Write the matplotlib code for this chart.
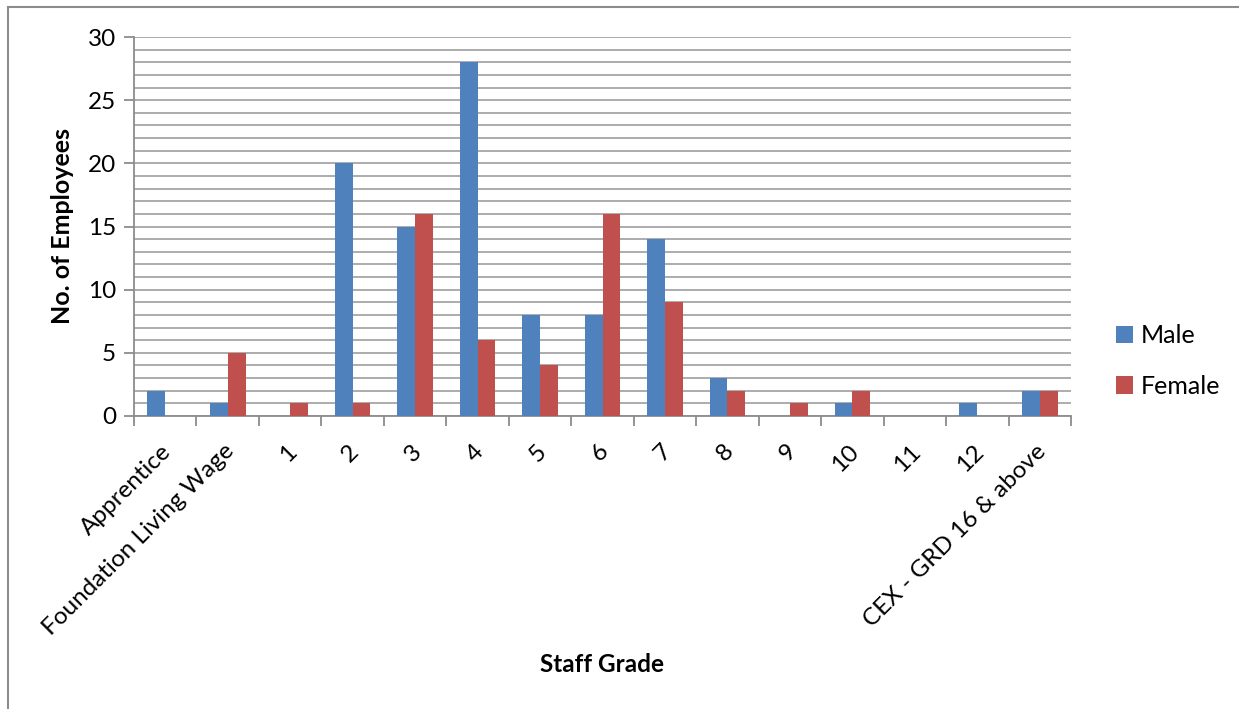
import matplotlib
matplotlib.use('Agg')
import matplotlib.pyplot as plt
from matplotlib.patches import Rectangle
from matplotlib.transforms import ScaledTranslation
from matplotlib.ticker import MultipleLocator
import numpy as np

plt.rcParams['font.family'] = ['Lato', 'DejaVu Sans']

grades = ['Apprentice', 'Foundation Living Wage', '1', '2', '3', '4', '5', '6',
          '7', '8', '9', '10', '11', '12', 'CEX - GRD 16 & above']
male = [2, 1, 0, 20, 15, 28, 8, 8, 14, 3, 0, 1, 0, 1, 2]
female = [0, 5, 1, 1, 16, 6, 4, 16, 9, 2, 1, 2, 0, 0, 2]

MALE_COLOR = '#4F81BD'
FEMALE_COLOR = '#C0504D'
GRID = '#A6A6A6'
AXIS = '#8C8C8C'

fig = plt.figure(figsize=(12.39, 7.09), dpi=100)
ax = fig.add_axes([134 / 1239, 1 - 416 / 709, (1071 - 134) / 1239, (416 - 37) / 709])

x = np.arange(len(grades))
w = 1 / 3.5
ax.bar(x - w / 2, male, width=w, color=MALE_COLOR, label='Male', zorder=3)
ax.bar(x + w / 2, female, width=w, color=FEMALE_COLOR, label='Female', zorder=3)

ax.set_xlim(-0.5, len(grades) - 0.5)
ax.set_ylim(0, 30)

# y axis: majors every 5, gridlines every 1
ax.yaxis.set_major_locator(MultipleLocator(5))
ax.yaxis.set_minor_locator(MultipleLocator(1))
ax.grid(axis='y', which='both', color=GRID, linewidth=1.3, zorder=0)
ax.tick_params(axis='y', which='major', direction='out', length=7, width=1.3,
               color=AXIS, labelsize=17.5, pad=6)
ax.tick_params(axis='y', which='minor', length=0)

# x axis: tick marks between categories, labels at centres
ax.set_xticks(np.arange(-0.5, len(grades), 1.0))
ax.set_xticklabels([])
ax.set_xticks(x, minor=True)
ax.set_xticklabels(grades, minor=True, rotation=45, ha='right', va='center',
                   rotation_mode='anchor', fontsize=17.5)
ax.tick_params(axis='x', which='major', direction='out', length=7, width=1.3, color=AXIS)
ax.tick_params(axis='x', which='minor', length=0, pad=23)
offset = ScaledTranslation(3 / 100, 0, fig.dpi_scale_trans)
for lab in ax.get_xticklabels(minor=True):
    lab.set_transform(lab.get_transform() + offset)

for s in ['top', 'right']:
    ax.spines[s].set_visible(False)
for s in ['left', 'bottom']:
    ax.spines[s].set_color(AXIS)
    ax.spines[s].set_linewidth(1.3)
ax.set_axisbelow(True)

ax.set_ylabel('No. of Employees', fontsize=18, fontweight='bold', labelpad=10)
fig.text(602 / 1239, 1 - 665 / 709, 'Staff Grade', fontsize=17.5, fontweight='bold',
         ha='center', va='center')

ax.legend(loc='center left', bbox_to_anchor=(1093 / 1239, 1 - 361 / 709),
          bbox_transform=fig.transFigure, frameon=False, fontsize=18,
          handlelength=0.7, handleheight=0.7, handletextpad=0.3,
          labelspacing=1.1)

# chart frame
fig.add_artist(Rectangle((8 / 1239, -0.2), 1.2, 1.2 - 7 / 709, transform=fig.transFigure,
                         fill=False, edgecolor='#8C8C8C', linewidth=1.5))

plt.savefig('out.png', dpi=100)
